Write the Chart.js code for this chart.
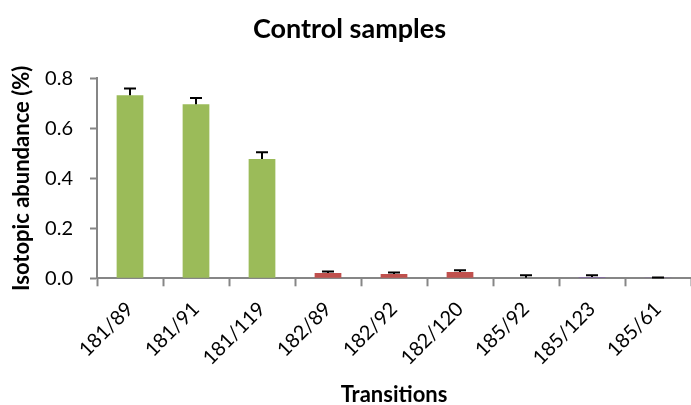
<!DOCTYPE html>
<html>
<head>
<meta charset="utf-8">
<script src="https://cdn.jsdelivr.net/npm/chart.js@4/dist/chart.umd.min.js"></script>
<style>
  html, body { margin: 0; padding: 0; background: #fff; }
  #wrap { width: 691px; height: 405px; }
</style>
</head>
<body>
<div id="wrap"><canvas id="c" width="691" height="405"></canvas></div>
<script>
// Transitions measured in the control samples
const transitions = ['181/89', '181/91', '181/119', '182/89', '182/92', '182/120', '185/92', '185/123', '185/61'];
// Mean isotopic abundance (%) per transition
const abundance = [0.733, 0.697, 0.477, 0.021, 0.017, 0.025, 0.002, 0.005, 0.001];
// Standard deviation per transition
const abundanceSD = [0.027, 0.025, 0.027, 0.006, 0.006, 0.007, 0.010, 0.007, 0.002];
// Bar colour per transition group (181, 182, 185)
const barColors = ['#9BBB59', '#9BBB59', '#9BBB59', '#C0504D', '#C0504D', '#C0504D', '#8064A2', '#8064A2', '#8064A2'];
// Y axis tick values
const yTicks = [0.0, 0.2, 0.4, 0.6, 0.8];

const FONT = 'Lato, "Open Sans", sans-serif';

// Draws the upper half of each error bar (stem and cap)
const errorBars = {
  id: 'errorBars',
  afterDatasetsDraw(chart) {
    const ctx = chart.ctx;
    const meta = chart.getDatasetMeta(0);
    const y = chart.scales.y;
    ctx.save();
    ctx.strokeStyle = '#000';
    ctx.lineWidth = 2;
    meta.data.forEach((bar, i) => {
      const x = bar.x;
      const y0 = y.getPixelForValue(abundance[i]);
      const y1 = y.getPixelForValue(abundance[i] + abundanceSD[i]);
      ctx.beginPath();
      ctx.moveTo(x, y0);
      ctx.lineTo(x, y1);
      ctx.moveTo(x - 6, y1);
      ctx.lineTo(x + 6, y1);
      ctx.stroke();
    });
    ctx.restore();
  }
};

new Chart(document.getElementById('c'), {
  type: 'bar',
  data: {
    labels: transitions,
    datasets: [{
      data: abundance,
      backgroundColor: barColors,
      borderWidth: 0,
      categoryPercentage: 1,
      barPercentage: 0.405
    }]
  },
  options: {
    responsive: false,
    animation: false,
    devicePixelRatio: 1,
    layout: { padding: { left: 0, right: -8, top: 0, bottom: 0 } },
    plugins: {
      legend: { display: false },
      tooltip: { enabled: false },
      title: {
        display: true,
        text: 'Control samples',
        color: '#000',
        font: { family: FONT, size: 27, weight: 'bold' },
        padding: { top: 13, bottom: 33 }
      }
    },
    scales: {
      x: {
        grid: {
          display: true,
          offset: true,
          drawOnChartArea: false,
          drawTicks: true,
          tickLength: 8,
          color: '#868686',
          tickWidth: 2
        },
        border: { display: true, color: '#868686', width: 2 },
        ticks: {
          color: '#000',
          font: { family: FONT, size: 20 },
          minRotation: 45,
          maxRotation: 45,
          padding: 11,
          autoSkip: false
        },
        title: {
          display: true,
          text: 'Transitions',
          color: '#000',
          font: { family: FONT, size: 22, weight: 'bold' },
          padding: { top: 0, bottom: -3 }
        },
        afterFit(scale) { scale.height = 126.7; }
      },
      y: {
        min: 0,
        max: 0.8,
        afterBuildTicks(scale) { scale.ticks = yTicks.map(v => ({ value: v })); },
        grid: {
          display: true,
          drawOnChartArea: false,
          drawTicks: true,
          tickLength: 7,
          color: '#868686',
          tickWidth: 2
        },
        border: { display: true, color: '#868686', width: 2 },
        ticks: {
          color: '#000',
          font: { family: FONT, size: 20 },
          padding: 17,
          callback: v => Number(v).toFixed(1)
        },
        title: {
          display: true,
          text: 'Isotopic abundance (%)',
          color: '#000',
          font: { family: FONT, size: 22, weight: 'bold' },
          padding: { top: 9, bottom: 0 }
        },
        afterFit(scale) { scale.width = 97; }
      }
    }
  },
  plugins: [errorBars]
});
</script>
</body>
</html>
